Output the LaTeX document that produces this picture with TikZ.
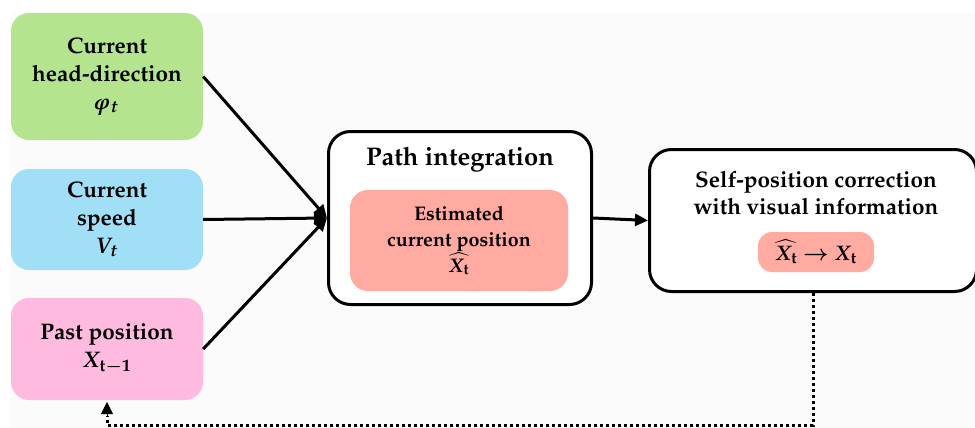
\documentclass[tikz,border=0pt]{standalone}
\usepackage[T1]{fontenc}
\usepackage{amsmath}
\usepackage{amssymb}
\usepackage{mathpazo}
\usepackage{tikz}
\usetikzlibrary{arrows.meta}

\definecolor{headgreen}{HTML}{B4E48E}
\definecolor{speedblue}{HTML}{A0DFF5}
\definecolor{pastpink}{HTML}{FFBBDF}
\definecolor{estsalmon}{HTML}{FFABA1}
\definecolor{bggray}{HTML}{FBFBFB}

\tikzset{
  inbox/.style={rounded corners=18pt, minimum width=192pt, align=center,
    font=\fontsize{22.5}{28}\selectfont\bfseries},
  bigbox/.style={draw, line width=3pt, rounded corners=22pt, fill=white},
  arr/.style={line width=3pt, -{Triangle[length=13pt,width=12pt]}},
  dotline/.style={line width=3pt, dash pattern=on 3pt off 3pt}
}

\begin{document}
\begin{tikzpicture}[x=1pt, y=-1pt]
\useasboundingbox (0,0) rectangle (975,428);
\clip (0,0) rectangle (975,428);
\fill[bggray] (10,13) rectangle (975,428);

%draw input boxes
\node [inbox, fill=headgreen, minimum height=127pt] (head) at (107,76.5)
  {Current\\head-direction\\$\boldsymbol{\varphi_t}$};
\node [inbox, fill=speedblue, minimum height=101pt] (speed) at (107,219.5)
  {Current\\speed\\$\boldsymbol{V_t}$};
\node [inbox, fill=pastpink, minimum height=102pt] (past) at (107,349)
  {Past position\\$\boldsymbol{X_{\mathbf{t-1}}}$};

%draw path integration
\node [bigbox, minimum width=263pt, minimum height=173pt] (path) at (460,218) {};
\node [font=\fontsize{25.5}{30}\selectfont\bfseries] (pathtitle) at (460,160) {Path integration};
\node [inbox, fill=estsalmon, minimum width=218pt, minimum height=101pt,
  font=\fontsize{19.7}{26}\selectfont\bfseries] (est) at (459,240.5)
  {Estimated\\current position\\$\boldsymbol{\widehat{X_{\mathbf{t}}}}$};

%draw correction
\node [bigbox, minimum width=327pt, minimum height=142pt] (self) at (813,220.5) {};
\node [align=center, font=\fontsize{22.5}{27}\selectfont\bfseries] (selftitle) at (816,193)
  {Self-position correction\\with visual information};
\node [fill=estsalmon, rounded corners=14pt, minimum width=116pt, minimum height=40pt,
  font=\fontsize{21}{24}\selectfont\bfseries] (corr) at (816,252)
  {$\boldsymbol{\widehat{X_{\mathbf{t}}}\rightarrow X_{\mathbf{t}}}$};

%draw arrows
\draw[arr] (head.east) -- (path.west);
\draw[arr] (speed.east) -- (path.west);
\draw[arr] (past.east) -- (path.west);
\draw[arr] (path.east) -- (self.west);

%draw feedback
\coordinate (fb) at (107,425);
\coordinate (fbtip) at (107,416);
\coordinate (fbend) at (107,402);
\draw[dotline] (self.south) |- (fb) -- (fbtip);
\draw[line width=1pt, -{Triangle[length=12pt,width=12pt]}] (fbtip) -- (fbend);
\end{tikzpicture}
\end{document}
